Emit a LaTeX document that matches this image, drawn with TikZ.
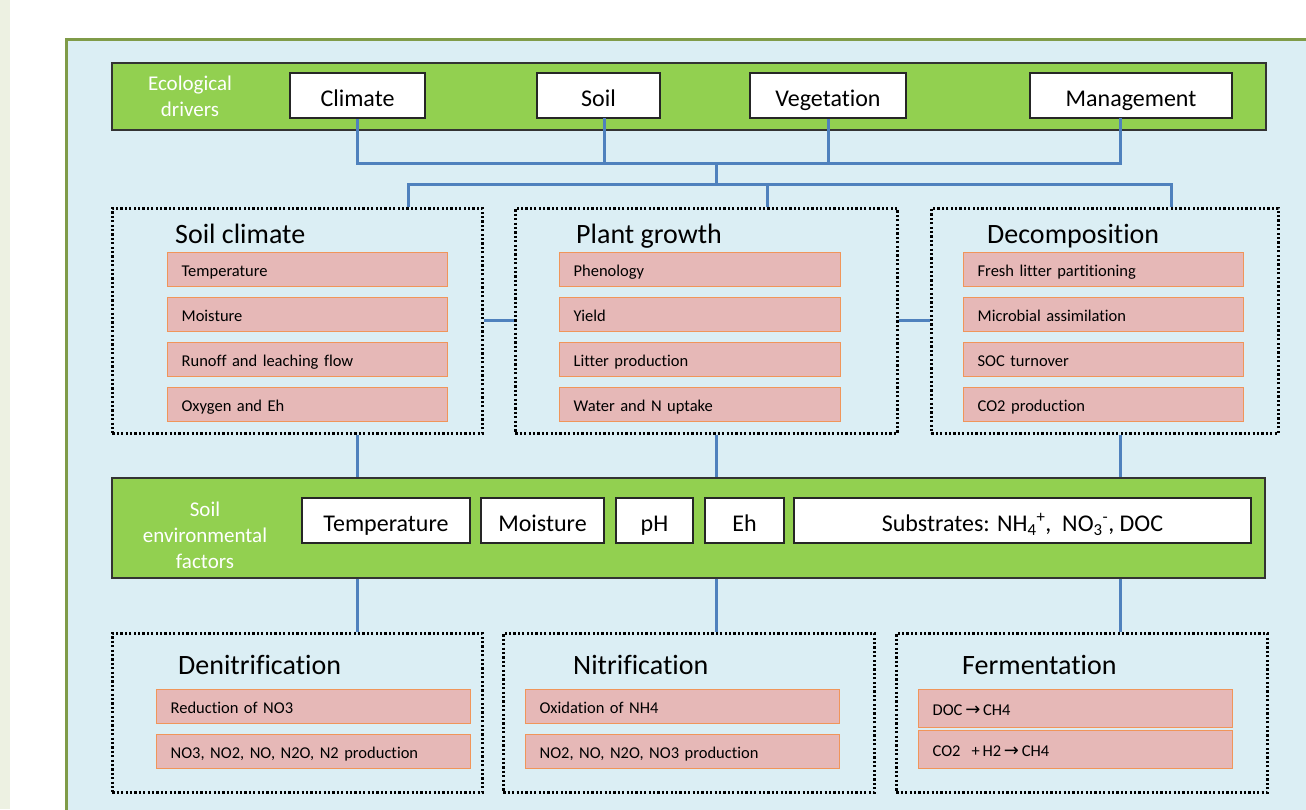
\documentclass[tikz,border=0pt]{standalone}
\usepackage{fontspec}
\setmainfont{Carlito}[Ligatures={NoCommon}]
\newfontfamily\arrowfont{DejaVu Sans}
\definecolor{barGreen}{HTML}{92D050}
\definecolor{frameGreen}{HTML}{7F9B48}
\definecolor{bgBlue}{HTML}{DBEEF4}
\definecolor{lineBlue}{HTML}{4F81BD}
\definecolor{pinkFill}{HTML}{E6B8B7}
\definecolor{pinkEdge}{HTML}{F0955A}
\definecolor{stripCol}{HTML}{EDF1E2}
\newcommand{\arr}{{\arrowfont\fontsize{18}{18}\selectfont\raisebox{-0.5pt}{→}}}
\tikzset{
  gbar/.style={draw=black!80, line width=1.5, fill=barGreen},
  wbox/.style={draw=black!85, line width=1.5, fill=white, font=\fontsize{24}{28}\selectfont, inner sep=0, text height=21, text depth=0},
  wboxlow/.style={wbox, text height=22.5},
  glabel/.style={text=white, align=center, font=\fontsize{21}{26}\selectfont, inner sep=0},
  dotbox/.style={draw=black, line width=2.6, dash pattern=on 2.2 off 2.2},
  ttl/.style={anchor=west, inner sep=0, font=\fontsize{28}{32}\selectfont, text height=20, text depth=6},
  pbox/.style={draw=pinkEdge, line width=1.3, fill=pinkFill, inner xsep=14, inner ysep=0, align=left, font=\fontsize{16.5}{19}\selectfont, anchor=north west, text height=13, text depth=0},
  conn/.style={draw=lineBlue, line width=3}
}
\begin{document}
\begin{tikzpicture}[x=1pt,y=-1pt]
\useasboundingbox (0,0) rectangle (1306,809);
\begin{scope}
\clip (0,0) rectangle (1306,809);
\fill[white] (0,0) rectangle (1306,809);
\fill[stripCol] (0,0) rectangle (10,809);
\draw[frameGreen, line width=3, fill=bgBlue] (66,39) rectangle (1330,840);

% top bar
\node[gbar, minimum width=1154, minimum height=67, anchor=north west, inner sep=0] (topbar) at (111,62) {};
\node[glabel] (ecolab) at (190,96) {Ecological\\drivers};
\node[wbox, minimum width=135, minimum height=45] (climate) at (357.5,95.5) {Climate};
\node[wbox, minimum width=123, minimum height=45] (soil) at (598.5,95.5) {Soil};
\node[wbox, minimum width=156, minimum height=45] (veg) at (828,95.5) {Vegetation};
\node[wbox, minimum width=202, minimum height=45] (mgmt) at (1131,95.5) {Management};

% junctions and drop points
\coordinate (j1) at (716,163);
\coordinate (j2) at (716,184);
\coordinate (sx) at (604,118);
\coordinate (mx) at (1120,118);
\coordinate (h1) at (408,184);
\coordinate (h2) at (767,184);
\coordinate (h3) at (1171,184);

% middle dotted boxes
\node[dotbox, minimum width=370, minimum height=225, anchor=north west, inner sep=0] (soilclim) at (111,207) {};
\node[dotbox, minimum width=382, minimum height=225, anchor=north west, inner sep=0] (plant) at (514,207) {};
\node[dotbox, minimum width=347, minimum height=225, anchor=north west, inner sep=0] (decomp) at (930,207) {};

\node[ttl] (tsc) at (175,236) {Soil climate};
\node[ttl] (tpg) at (576,236) {Plant growth};
\node[ttl] (tdc) at (987,236) {Decomposition};

\foreach \t [count=\i from 0] in {Temperature, Moisture, Runoff and leaching flow, Oxygen and Eh}
  \node[pbox, minimum width=280, minimum height=34, text width=252] (sc\i) at (167,252+45*\i) {\t};
\foreach \t [count=\i from 0] in {Phenology, Yield, Litter production, Water and N uptake}
  \node[pbox, minimum width=281, minimum height=34, text width=253] (pg\i) at (559,252+45*\i) {\t};
\foreach \t [count=\i from 0] in {Fresh litter partitioning, Microbial assimilation, SOC turnover, CO2 production}
  \node[pbox, minimum width=280, minimum height=34, text width=252] (dc\i) at (963,252+45*\i) {\t};

% env bar
\node[gbar, minimum width=1153, minimum height=100, anchor=north west, inner sep=0] (env) at (111,477) {};
\node[glabel] (envlab) at (205,535) {Soil\\environmental\\factors};
\node[wboxlow, minimum width=168, minimum height=45] (eT) at (386,520.5) {Temperature};
\node[wboxlow, minimum width=123, minimum height=45] (eM) at (542.5,520.5) {Moisture};
\node[wboxlow, minimum width=77, minimum height=45] (ePH) at (654.5,520.5) {pH};
\node[wboxlow, minimum width=79, minimum height=45] (eEH) at (744.5,520.5) {Eh};
\node[wboxlow, minimum width=457, minimum height=45] (eS) at (1022.5,520.5) {Substrates: NH\textsubscript{4}\textsuperscript{+},\ \ NO\textsubscript{3}\textsuperscript{-}, DOC};

% bottom dotted boxes
\node[dotbox, minimum width=370, minimum height=159, anchor=north west, inner sep=0] (denit) at (111,632) {};
\node[dotbox, minimum width=371, minimum height=159, anchor=north west, inner sep=0] (nitri) at (502,632) {};
\node[dotbox, minimum width=371, minimum height=159, anchor=north west, inner sep=0] (ferm) at (895,632) {};

\node[ttl] (tdn) at (178,667) {Denitrification};
\node[ttl] (tni) at (573,667) {Nitrification};
\node[ttl] (tfe) at (962,667) {Fermentation};

\node[pbox, minimum width=314, minimum height=34, text width=286] (dn0) at (156,689) {Reduction of NO3};
\node[pbox, minimum width=314, minimum height=34, text width=286] (dn1) at (156,734) {NO3, NO2, NO, N2O, N2 production};
\node[pbox, minimum width=314, minimum height=34, text width=286] (ni0) at (525,689) {Oxidation of NH4};
\node[pbox, minimum width=314, minimum height=34, text width=286] (ni1) at (525,734) {NO2, NO, N2O, NO3 production};
\node[pbox, minimum width=314, minimum height=38, text width=286] (fe0) at (918,689) {DOC\,\arr\,CH4};
\node[pbox, minimum width=314, minimum height=38, text width=286] (fe1) at (918,730) {CO2\ \ +\,H2\,\arr\,CH4};

% connectors top
\draw[conn] (climate.south) |- (j1) -| (mx);
\draw[conn] (sx) -- (sx |- j1);
\draw[conn] (veg.south) -- (veg.south |- j1);
\draw[conn] (j1) -- (j2);
\draw[conn] (h1 |- soilclim.north) |- (h3) -- (h3 |- decomp.north);
\draw[conn] (h2) -- (h2 |- plant.north);
% side links
\draw[conn] (soilclim.east |- 0,320) -- (plant.west |- 0,320);
\draw[conn] (plant.east |- 0,320) -- (decomp.west |- 0,320);
% down to env bar
\draw[conn] (climate.south |- soilclim.south) -- (climate.south |- env.north);
\draw[conn] (j1 |- plant.south) -- (j1 |- env.north);
\draw[conn] (mx |- decomp.south) -- (mx |- env.north);
% env bar to processes
\draw[conn] (climate.south |- env.south) -- (climate.south |- denit.north);
\draw[conn] (j1 |- env.south) -- (j1 |- nitri.north);
\draw[conn] (mx |- env.south) -- (mx |- ferm.north);
\end{scope}
\end{tikzpicture}
\end{document}
